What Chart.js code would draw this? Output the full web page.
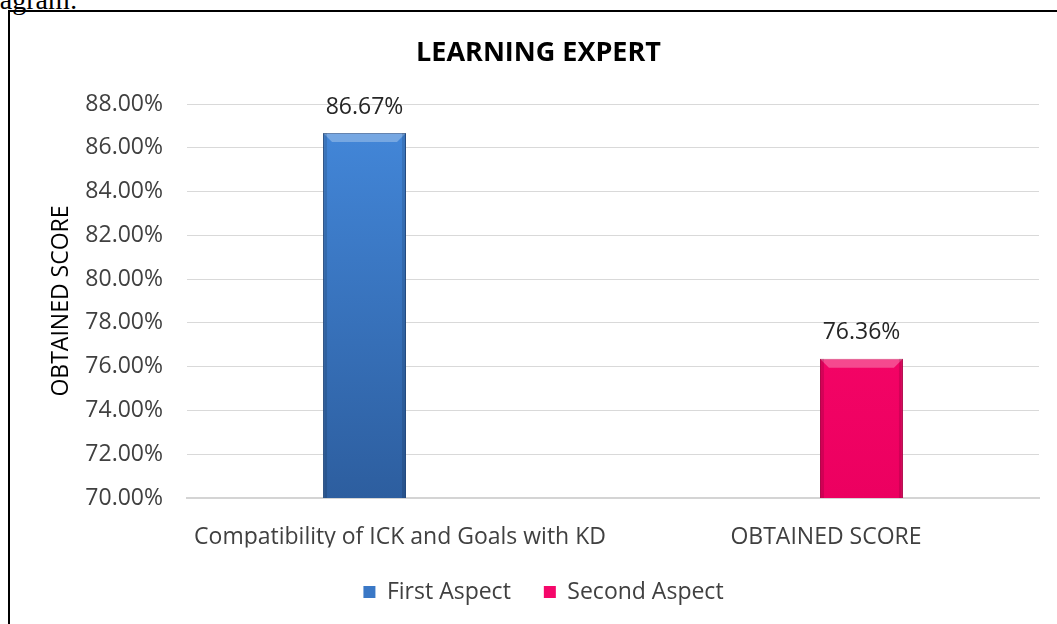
<!doctype html>
<html lang="en">

<head>
    <meta charset="utf-8">
    <title>Learning Expert</title>
    <script src="https://cdn.jsdelivr.net/npm/chart.js"></script>
    <style>
        * {
            margin: 0;
            padding: 0;
        }

        body {
            width: 1057px;
            height: 624px;
            overflow: hidden;
            background: #fff;
            position: relative;
        }

        .caption {
            position: absolute;
            left: -22px;
            top: -14px;
            font-family: "Liberation Serif", serif;
            font-size: 28px;
            line-height: 28px;
            color: #000;
            white-space: nowrap;
        }

        .frame {
            position: absolute;
            left: 8px;
            top: 10px;
            width: 1100px;
            height: 700px;
            border: 2px solid #000;
        }

        .chartBox {
            position: absolute;
            left: 0;
            top: 0;
            width: 1057px;
            height: 624px;
        }
    </style>
</head>

<body>
    <div class="caption">diagram:</div>
    <div class="frame"></div>
    <div class="chartBox">
        <canvas id="myChart"></canvas>
    </div>

    <script>
        // data
        const categories = ['Compatibility of ICK and Goals with KD', 'OBTAINED SCORE'];
        const seriesNames = ['First Aspect', 'Second Aspect'];
        const firstAspect = [86.67, null];
        const secondAspect = [null, 76.36];
        const yMin = 70;
        const yMax = 88;
        const yStep = 2;
        const chartTitle = 'LEARNING EXPERT';

        const FONT = '"Open Sans", sans-serif';
        const TEXT = '#404040';

        function barFill(top, bottom) {
            return function (ctx) {
                const area = ctx.chart.chartArea;
                if (!area) return top;
                const g = ctx.chart.ctx.createLinearGradient(0, area.top, 0, area.bottom);
                g.addColorStop(0, top);
                g.addColorStop(1, bottom);
                return g;
            };
        }

        // title drawn by hand so it sits where the original has it
        const titleText = {
            id: 'titleText',
            afterDraw(chart) {
                const c = chart.ctx;
                c.save();
                c.font = 'bold 27px ' + FONT;
                c.fillStyle = '#000';
                c.textAlign = 'center';
                c.textBaseline = 'middle';
                c.fillText(chartTitle, 538.5, 53);
                c.restore();
            }
        };

        // value labels above bars + a small bevel on each bar
        const barExtras = {
            id: 'barExtras',
            afterDatasetsDraw(chart) {
                const c = chart.ctx;
                const bottom = chart.chartArea.bottom;
                chart.data.datasets.forEach((ds, i) => {
                    const meta = chart.getDatasetMeta(i);
                    meta.data.forEach((bar, j) => {
                        const v = ds.data[j];
                        if (v === null || v === undefined) return;
                        const w = bar.width;
                        const l = bar.x - w / 2, r = bar.x + w / 2, t = bar.y;
                        c.save();
                        c.fillStyle = 'rgba(255,255,255,0.28)';
                        c.beginPath();
                        c.moveTo(l, t);
                        c.lineTo(r, t);
                        c.lineTo(r - 9, t + 9);
                        c.lineTo(l + 9, t + 9);
                        c.closePath();
                        c.fill();
                        c.fillStyle = 'rgba(0,0,0,0.12)';
                        c.fillRect(l, t, 4, bottom - t);
                        c.fillRect(r - 4, t, 4, bottom - t);
                        c.font = '23px ' + FONT;
                        c.fillStyle = '#262626';
                        c.textAlign = 'center';
                        c.textBaseline = 'middle';
                        c.fillText(v.toFixed(2) + '%', bar.x, t - 26);
                        c.restore();
                    });
                });
            }
        };

        const data = {
            labels: categories,
            datasets: [{
                label: seriesNames[0],
                data: firstAspect,
                backgroundColor: barFill('#4489dc', '#2d5e9f'),
                borderColor: '#2a5590',
                borderWidth: 1,
                barPercentage: 1.17,
                categoryPercentage: 0.333
            }, {
                label: seriesNames[1],
                data: secondAspect,
                backgroundColor: barFill('#ff0a6e', '#ec0060'),
                borderColor: '#c8004f',
                borderWidth: 1,
                barPercentage: 1.17,
                categoryPercentage: 0.333
            }]
        };

        const legendColors = ['#3a78c6', '#f5076a'];

        const config = {
            type: 'bar',
            data,
            plugins: [barExtras, titleText],
            options: {
                responsive: true,
                maintainAspectRatio: false,
                animation: false,
                devicePixelRatio: 1,
                layout: {
                    padding: { left: 48, right: 18, top: 104, bottom: 10.5 }
                },
                plugins: {
                    title: { display: false },
                    legend: {
                        position: 'bottom',
                        labels: {
                            color: TEXT,
                            font: { family: FONT, size: 23 },
                            boxWidth: 12,
                            boxHeight: 12,
                            padding: 33,
                            generateLabels(chart) {
                                const items = Chart.defaults.plugins.legend.labels.generateLabels(chart);
                                items.forEach((it, k) => {
                                    it.fillStyle = legendColors[k];
                                    it.strokeStyle = '#ffffff';
                                    it.lineWidth = 0;
                                });
                                return items;
                            }
                        }
                    },
                    tooltip: { enabled: false }
                },
                scales: {
                    x: {
                        grid: { display: false, drawTicks: false },
                        border: { color: '#d4d4d4', width: 2 },
                        ticks: {
                            color: TEXT,
                            font: { family: FONT, size: 23 },
                            padding: 26,
                            maxRotation: 0
                        },
                        afterFit(s) { s.height = 49.5; }
                    },
                    y: {
                        min: yMin,
                        max: yMax,
                        grid: { color: '#d9d9d9', drawTicks: false },
                        border: { display: false },
                        ticks: {
                            stepSize: yStep,
                            color: TEXT,
                            font: { family: FONT, size: 23 },
                            padding: 24,
                            callback: v => v.toFixed(2) + '%'
                        },
                        title: {
                            display: true,
                            text: 'OBTAINED SCORE',
                            color: '#000',
                            font: { family: FONT, size: 23 },
                            padding: 0
                        },
                        afterFit(s) { s.width = 139; }
                    }
                }
            }
        };

        window.chart = new Chart(document.getElementById('myChart'), config);
    </script>
</body>

</html>
